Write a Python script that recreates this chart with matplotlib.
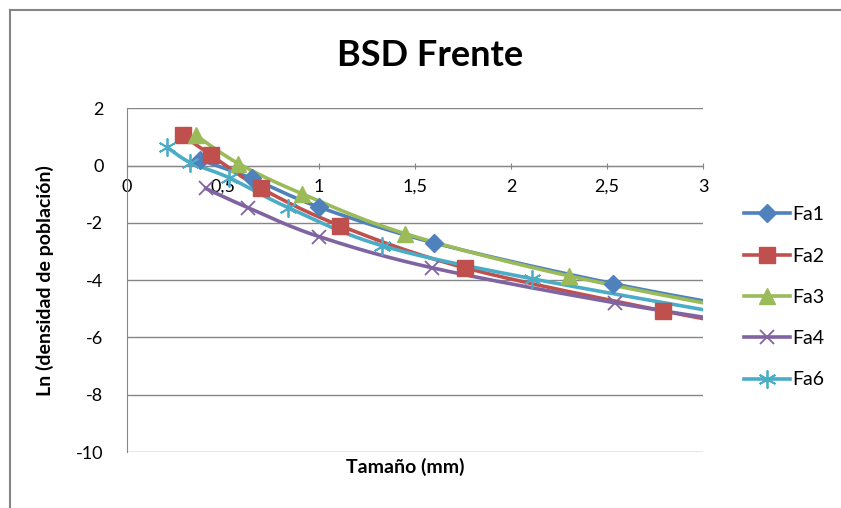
import matplotlib
matplotlib.use("Agg")
import matplotlib.pyplot as plt
from matplotlib.lines import Line2D
import numpy as np

plt.rcParams["font.family"] = ["Lato", "DejaVu Sans"]

series_names = ["Fa1", "Fa2", "Fa3", "Fa4", "Fa6"]
colors = ["#4F81BD", "#C0504D", "#9BBB59", "#8064A2", "#4BACC6"]
markers = ["D", "s", "^", "x", (6, 2, 0)]

# points (last point of each series lies past the x range)
fa1_x = [0.38, 0.65, 1.0, 1.6, 2.53, 3.4]
fa1_y = [0.2, -0.45, -1.45, -2.7, -4.12, -5.2]
fa2_x = [0.29, 0.44, 0.70, 1.11, 1.76, 2.79, 3.4]
fa2_y = [1.05, 0.35, -0.8, -2.1, -3.57, -5.07, -5.8]
fa3_x = [0.36, 0.58, 0.91, 1.45, 2.30, 3.4]
fa3_y = [1.05, 0.07, -0.98, -2.38, -3.85, -5.3]
fa4_x = [0.41, 0.63, 1.0, 1.59, 2.54, 3.4]
fa4_y = [-0.8, -1.47, -2.48, -3.57, -4.79, -5.7]
fa6_x = [0.21, 0.33, 0.53, 0.84, 1.33, 2.11, 3.4]
fa6_y = [0.63, 0.1, -0.42, -1.47, -2.8, -3.95, -5.5]

xs = [fa1_x, fa2_x, fa3_x, fa4_x, fa6_x]
ys = [fa1_y, fa2_y, fa3_y, fa4_y, fa6_y]

x_ticks = [0, 0.5, 1, 1.5, 2, 2.5, 3]
x_tick_labels = ["0", "0,5", "1", "1,5", "2", "2,5", "3"]
y_ticks = [2, 0, -2, -4, -6, -8, -10]


def smooth(x, y, n=30):
    # Excel-like smoothed line: cubic bezier with catmull-rom style controls
    x = np.asarray(x, float)
    y = np.asarray(y, float)
    px, py = [], []
    for i in range(len(x) - 1):
        x0, y0 = (x[i - 1], y[i - 1]) if i > 0 else (x[i], y[i])
        x3, y3 = (x[i + 2], y[i + 2]) if i + 2 < len(x) else (x[i + 1], y[i + 1])
        c1x = x[i] + (x[i + 1] - x0) / 6
        c1y = y[i] + (y[i + 1] - y0) / 6
        c2x = x[i + 1] - (x3 - x[i]) / 6
        c2y = y[i + 1] - (y3 - y[i]) / 6
        t = np.linspace(0, 1, n)
        bx = (1 - t) ** 3 * x[i] + 3 * (1 - t) ** 2 * t * c1x + 3 * (1 - t) * t ** 2 * c2x + t ** 3 * x[i + 1]
        by = (1 - t) ** 3 * y[i] + 3 * (1 - t) ** 2 * t * c1y + 3 * (1 - t) * t ** 2 * c2y + t ** 3 * y[i + 1]
        px.extend(bx)
        py.extend(by)
    return px, py


fig = plt.figure(figsize=(8.41, 5.08), dpi=100)
ax = fig.add_axes([0.151, 0.110, 0.685, 0.677])

sizes = {"D": 9, "s": 11, "^": 11, "x": 10, (6, 2, 0): 13}
for name, x, y, c, m in zip(series_names, xs, ys, colors, markers):
    sx, sy = smooth(x, y)
    ax.plot(sx, sy, color=c, linewidth=2.6, zorder=3)
    mew = 1.3 if m in ("x", (6, 2, 0)) else 1
    ax.plot(x, y, linestyle="none", marker=m, color=c, markersize=sizes[m],
            markeredgewidth=mew, zorder=4)
    ax.plot([], [], color=c, linewidth=2.6, marker=m, markersize=sizes[m],
            markeredgewidth=mew, label=name)

ax.set_xlim(0, 3)
ax.set_ylim(-10, 2)
ax.set_xticks(x_ticks)
ax.set_xticklabels(x_tick_labels)
ax.set_yticks(y_ticks)
ax.set_yticklabels([str(v) for v in y_ticks])
ax.tick_params(axis="both", labelsize=13, colors="#000000", color="#868686")
ax.tick_params(axis="x", direction="inout", length=5, pad=7)
ax.tick_params(axis="y", length=0, pad=17)

ax.grid(axis="y", color="#868686", linewidth=1)
ax.set_axisbelow(True)
ax.spines["bottom"].set_position(("data", 0))
ax.spines["bottom"].set_color("#868686")
ax.spines["left"].set_color("#868686")
ax.spines["top"].set_visible(False)
ax.spines["right"].set_visible(False)

fig.text(430 / 841, 1 - 55 / 508, "BSD Frente", fontsize=26, fontweight="bold",
         ha="center", va="center")
ax.set_ylabel("Ln (densidad de población)", fontsize=14, fontweight="bold", labelpad=16)
fig.text(0.482, 0.068, "Tamaño (mm)", fontsize=14, fontweight="bold", ha="center")

ax.legend(loc="center left", bbox_to_anchor=(1.04, 0.45), frameon=False,
          fontsize=14, handlelength=2.4, labelspacing=1.25, handletextpad=0.1)

# chart border (only top and left edges show)
fig.add_artist(Line2D([10 / 841, 1], [1 - 10 / 508] * 2, transform=fig.transFigure,
                      color="#868686", linewidth=1.5))
fig.add_artist(Line2D([10 / 841] * 2, [0, 1 - 10 / 508], transform=fig.transFigure,
                      color="#868686", linewidth=1.5))

fig.savefig("out.png", dpi=100)
